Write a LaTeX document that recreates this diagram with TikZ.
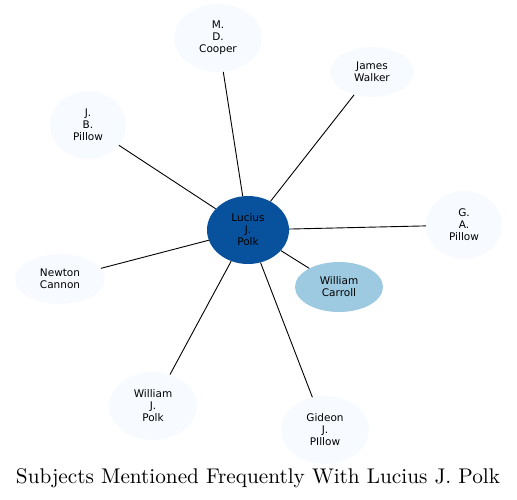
\documentclass[tikz,border=0pt]{standalone}
\usepackage{fontspec}
\usetikzlibrary{shapes.geometric}
\newfontfamily\nodefont{DejaVu Sans}
\newfontfamily\titlefont{lmroman10-regular}[Extension=.otf]
\definecolor{lightnode}{HTML}{F7FBFF}
\definecolor{darknode}{HTML}{08519C}
\definecolor{midnode}{HTML}{9ECAE1}
\begin{document}
\begin{tikzpicture}[x=1pt,y=-1pt,
  ent/.style={ellipse, draw=none, fill=lightnode, inner sep=0pt, align=center,
    font=\nodefont\fontsize{10.5}{12}\selectfont},
  edge/.style={draw=black, line width=0.9pt}]
\useasboundingbox (0,0) rectangle (517,499);
\node[ent, fill=darknode, minimum width=82pt, minimum height=68pt] (lucius) at (248,230) {Lucius\\J.\\Polk};
\node[ent, fill=midnode, minimum width=88pt, minimum height=50pt] (carroll) at (339,287) {William\\Carroll};
\node[ent, minimum width=88pt, minimum height=68pt] (cooper) at (218,38) {M.\\D.\\Cooper};
\node[ent, minimum width=84pt, minimum height=50pt] (walker) at (372,72) {James\\Walker};
\node[ent, minimum width=76pt, minimum height=68pt] (jbpillow) at (88,125) {J.\\B.\\Pillow};
\node[ent, minimum width=76pt, minimum height=68pt] (gapillow) at (464,225) {G.\\A.\\Pillow};
\node[ent, minimum width=90pt, minimum height=50pt] (cannon) at (60,279) {Newton\\Cannon};
\node[ent, minimum width=88pt, minimum height=68pt] (wjpolk) at (153,406) {William\\J.\\Polk};
\node[ent, minimum width=88pt, minimum height=68pt] (gideon) at (325,430) {Gideon\\J.\\PIllow};
\foreach \t in {carroll,cooper,walker,jbpillow,gapillow,cannon,wjpolk,gideon}
  \draw[edge] (lucius) -- (\t);
\node[inner sep=0pt] (title) at (258,478) {\resizebox{484pt}{!}{\titlefont\fontsize{20}{24}\selectfont Subjects Mentioned Frequently With Lucius J. Polk}};
\end{tikzpicture}
\end{document}
